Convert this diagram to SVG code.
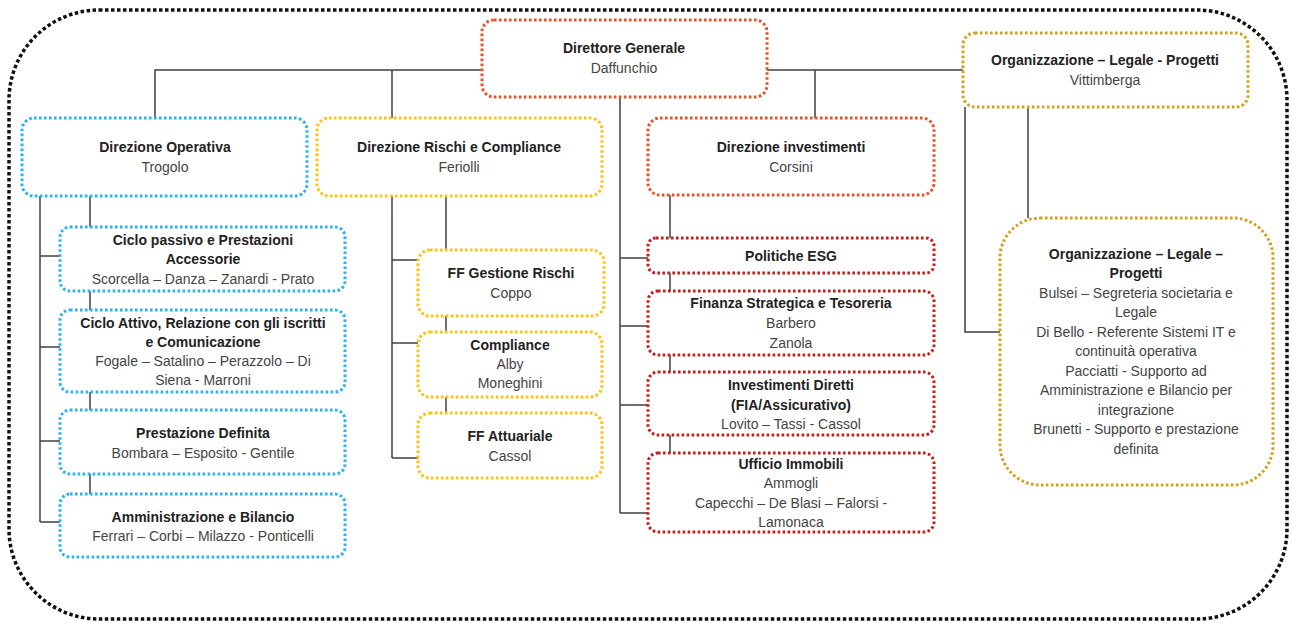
<svg xmlns="http://www.w3.org/2000/svg" width="1292" height="623" viewBox="0 0 1292 623">
<style>
.box{fill:#fff;stroke-width:3;stroke-dasharray:2.6 2.4;}
.blue{stroke:#27B4F2;}
.yel{stroke:#FFC20E;}
.ored{stroke:#E9502A;}
.red{stroke:#CC1B1B;}
.gold{stroke:#D4A21A;}
.frame{fill:none;stroke:#111;stroke-width:3.5;stroke-dasharray:3.5 2.5;}
.ln{fill:none;stroke:#404040;stroke-width:1.5;}
text{font-family:"Liberation Sans",Arial,sans-serif;font-size:14px;text-anchor:middle;}
.t{font-weight:bold;fill:#222;}
.n{fill:#444;}
</style>
<rect class="frame" x="9" y="10" width="1278" height="609" rx="90" ry="90"/>
<g id="connectors">
<path class="ln" d="M155,118 V70 H482 M767,70 H963 M392,70 V118 M815,70 V118 M620,97 V513"/>
<path class="ln" d="M40,196 V522 M40,256 H60 M40,347 H60 M40,441 H60 M40,522 H60 M90,196 V227 M90,291 V310 M90,392 V410 M90,474 V494"/>
<path class="ln" d="M392,196 V458 M392,260 H418 M392,343 H418 M392,458 H418 M446,196 V250 M446,316 V332 M446,397 V413"/>
<path class="ln" d="M620,258 H648 M620,326 H648 M620,405 H648 M620,513 H648 M670,195 V238 M670,273 V291 M670,355 V372 M670,435 V453"/>
<path class="ln" d="M965,107 V332 H1000 M1028,107 V218"/>
</g>
<g id="dg"><rect class="box ored" x="482" y="20" width="285" height="77" rx="12"/><text class="t" x="624" y="53">Direttore Generale</text><text class="n" x="624" y="73">Daffunchio</text></g>
<g id="org"><rect class="box gold" x="963" y="33" width="285" height="74" rx="12"/><text class="t" x="1105" y="65">Organizzazione – Legale - Progetti</text><text class="n" x="1105" y="85">Vittimberga</text></g>
<g id="dirop"><rect class="box blue" x="22" y="118" width="285" height="78" rx="12"/><text class="t" x="165" y="152">Direzione Operativa</text><text class="n" x="165" y="172">Trogolo</text></g>
<g id="dirrc"><rect class="box yel" x="317" y="118" width="285" height="78" rx="12"/><text class="t" x="459" y="152">Direzione Rischi e Compliance</text><text class="n" x="459" y="172">Feriolli</text></g>
<g id="dirinv"><rect class="box ored" x="648" y="118" width="286" height="77" rx="12"/><text class="t" x="791" y="152">Direzione investimenti</text><text class="n" x="791" y="172">Corsini</text></g>
<g id="ciclopass"><rect class="box blue" x="60" y="227" width="285" height="64" rx="10"/><text class="t" x="203" y="245">Ciclo passivo e Prestazioni</text><text class="t" x="203" y="264">Accessorie</text><text class="n" x="203" y="284">Scorcella – Danza – Zanardi - Prato</text></g>
<g id="cicloatt"><rect class="box blue" x="60" y="310" width="285" height="82" rx="10"/><text class="t" x="203" y="328">Ciclo Attivo, Relazione con gli iscritti</text><text class="t" x="203" y="347">e Comunicazione</text><text class="n" x="203" y="366">Fogale – Satalino – Perazzolo – Di</text><text class="n" x="203" y="385">Siena - Marroni</text></g>
<g id="prestdef"><rect class="box blue" x="60" y="410" width="285" height="64" rx="10"/><text class="t" x="203" y="438">Prestazione Definita</text><text class="n" x="203" y="458">Bombara – Esposito - Gentile</text></g>
<g id="ammbil"><rect class="box blue" x="60" y="494" width="285" height="63" rx="10"/><text class="t" x="203" y="522">Amministrazione e Bilancio</text><text class="n" x="203" y="541">Ferrari – Corbi – Milazzo - Ponticelli</text></g>
<g id="ffgr"><rect class="box yel" x="418" y="250" width="186" height="66" rx="12"/><text class="t" x="511" y="278">FF Gestione Rischi</text><text class="n" x="511" y="298">Coppo</text></g>
<g id="compl"><rect class="box yel" x="418" y="332" width="184" height="65" rx="12"/><text class="t" x="510" y="350">Compliance</text><text class="n" x="510" y="369">Alby</text><text class="n" x="510" y="388">Moneghini</text></g>
<g id="ffatt"><rect class="box yel" x="418" y="413" width="184" height="65" rx="12"/><text class="t" x="510" y="441">FF Attuariale</text><text class="n" x="510" y="461">Cassol</text></g>
<g id="esg"><rect class="box red" x="648" y="238" width="286" height="35" rx="8"/><text class="t" x="791" y="261">Politiche ESG</text></g>
<g id="finstrat"><rect class="box red" x="648" y="291" width="286" height="64" rx="10"/><text class="t" x="791" y="308">Finanza Strategica e Tesoreria</text><text class="n" x="791" y="328">Barbero</text><text class="n" x="791" y="348">Zanola</text></g>
<g id="invdir"><rect class="box red" x="648" y="372" width="286" height="63" rx="10"/><text class="t" x="791" y="390">Investimenti Diretti</text><text class="t" x="791" y="410">(FIA/Assicurativo)</text><text class="n" x="791" y="429">Lovito – Tassi - Cassol</text></g>
<g id="uffimm"><rect class="box red" x="648" y="453" width="286" height="79" rx="10"/><text class="t" x="791" y="469">Ufficio Immobili</text><text class="n" x="791" y="488">Ammogli</text><text class="n" x="791" y="508">Capecchi – De Blasi – Falorsi -</text><text class="n" x="791" y="527">Lamonaca</text></g>
<g id="orgsub"><rect class="box gold" x="1000" y="218" width="273" height="267" rx="40"/>
<text class="t" x="1136" y="259">Organizzazione – Legale –</text><text class="t" x="1136" y="278">Progetti</text>
<text class="n" x="1136" y="298">Bulsei – Segreteria societaria e</text><text class="n" x="1136" y="317">Legale</text>
<text class="n" x="1136" y="337">Di Bello - Referente Sistemi IT e</text><text class="n" x="1136" y="356">continuità operativa</text>
<text class="n" x="1136" y="376">Pacciatti - Supporto ad</text><text class="n" x="1136" y="395">Amministrazione e Bilancio per</text>
<text class="n" x="1136" y="415">integrazione</text><text class="n" x="1136" y="434">Brunetti - Supporto e prestazione</text>
<text class="n" x="1136" y="454">definita</text></g>
</svg>
